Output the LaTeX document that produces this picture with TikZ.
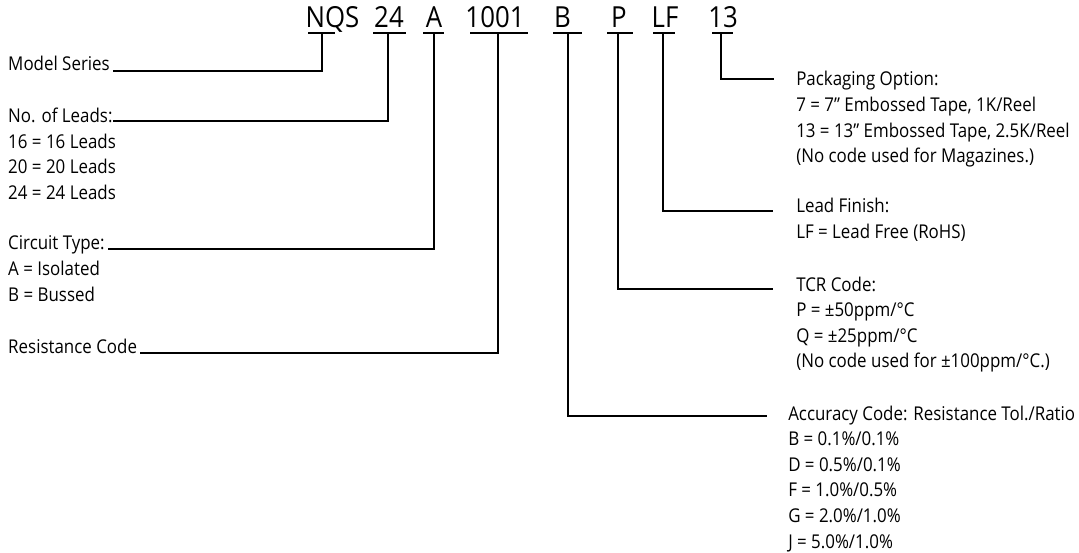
\documentclass[tikz,border=0pt]{standalone}
\usepackage{fontspec}
\setmainfont{Open Sans}[FakeStretch=0.89]

\begin{document}
\begin{tikzpicture}[x=1pt,y=-1pt,line width=2.5pt,inner sep=0pt]

  \tikzstyle{code}=[font=\fontsize{29}{29}\selectfont,anchor=base]
  \tikzstyle{desc}=[font=\fontsize{19}{25.6}\selectfont,anchor=base west,align=left]
  \tikzstyle{lead}=[line width=2.5pt,line cap=rect]

  \useasboundingbox (0,0) rectangle (1079,553);

  % part number
  \node[code] (NQS)  at (332.5,28) {NQS};
  \node[code] (N24)  at (389,28)   {24};
  \node[code] (NA)   at (434,28)   {A};
  \node[code] (N1001) at (495,28)  {1001};
  \node[code] (NB)   at (562.5,28) {B};
  \node[code] (NP)   at (619,28)   {P};
  \node[code] (NLF)  at (665,28)   {LF};
  \node[code] (N13)  at (723,28)   {13};

  % descriptions (base = baseline of the last line)
  \node[desc] (MS) at (7,71)    {Model Series};
  \node[desc] (NL) at (7,199.5) {No. of Leads:\\16 = 16 Leads\\20 = 20 Leads\\24 = 24 Leads};
  \node[desc] (CT) at (7,301.2) {Circuit Type:\\A = Isolated\\B = Bussed};
  \node[desc] (RC) at (7,353)   {Resistance Code};
  \node[desc] (PO) at (795,162.8) {Packaging Option:\\7 = 7” Embossed Tape, 1K/Reel\\13 = 13” Embossed Tape, 2.5K/Reel\\(No code used for Magazines.)};
  \node[desc] (LE) at (795,238.6) {Lead Finish:\\LF = Lead Free (RoHS)};
  \node[desc] (TC) at (795,367.8) {TCR Code:\\P = ±50ppm/°C\\Q = ±25ppm/°C\\(No code used for ±100ppm/°C.)};
  \node[desc] (AC) at (787,548) {Accuracy Code: Resistance Tol./Ratio\\B = 0.1\%/0.1\%\\D = 0.5\%/0.1\%\\F = 1.0\%/0.5\%\\G = 2.0\%/1.0\%\\J = 5.0\%/1.0\%};

  % underlines and stems
  \coordinate (sNQS) at (322,33);  \coordinate (eMS) at (114,71);
  \coordinate (s24)  at (388,33);  \coordinate (eNL) at (114,121);
  \coordinate (sA)   at (434,33);  \coordinate (eCT) at (109,249);
  \coordinate (s1001) at (498,33); \coordinate (eRC) at (141,353);
  \coordinate (sB)   at (568,33);  \coordinate (eAC) at (766,416);
  \coordinate (sP)   at (618,33);  \coordinate (eTC) at (772,289);
  \coordinate (sLF)  at (663,33);  \coordinate (eLE) at (772,211);
  \coordinate (s13)  at (721,33);  \coordinate (ePO) at (773,79);

  \draw (308,33) -- (335,33)  (373,33) -- (406,33)  (423,33) -- (444,33)
        (470,33) -- (528,33)  (553,33) -- (582,33)  (607,33) -- (633,33)
        (653,33) -- (675,33)  (712,33) -- (733,33);

  \draw[lead] (sNQS) |- (eMS);
  \draw[lead] (s24) |- (eNL);
  \draw[lead] (sA) |- (eCT);
  \draw[lead] (s1001) |- (eRC);
  \draw[lead] (sB) |- (eAC);
  \draw[lead] (sP) |- (eTC);
  \draw[lead] (sLF) |- (eLE);
  \draw[lead] (s13) |- (ePO);
\end{tikzpicture}
\end{document}
